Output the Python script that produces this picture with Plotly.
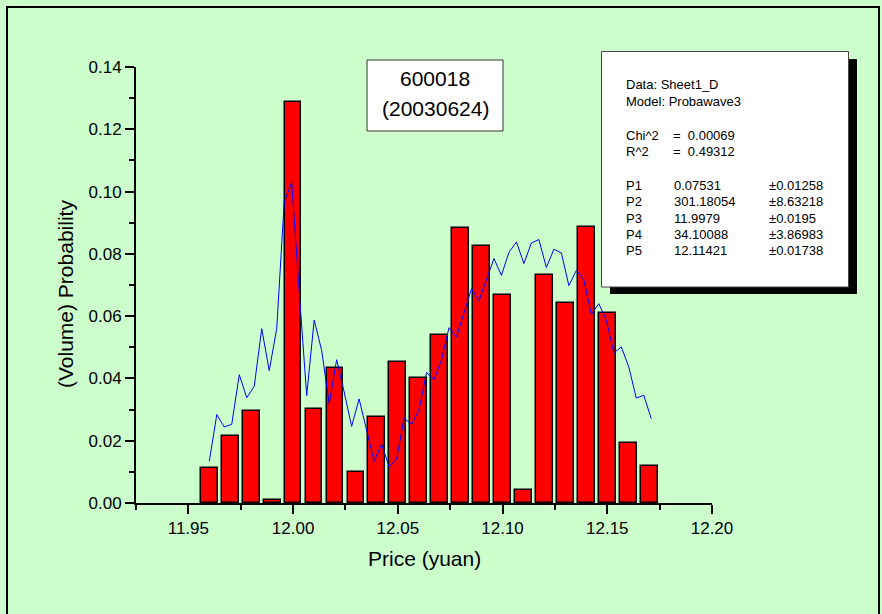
import numpy as np
import plotly.graph_objects as go

# Histogram of traded volume share by price (yuan)
price_bins = [11.96, 11.97, 11.98, 11.99, 12.00, 12.01, 12.02, 12.03, 12.04, 12.05, 12.06,
              12.07, 12.08, 12.09, 12.10, 12.11, 12.12, 12.13, 12.14, 12.15, 12.16, 12.17]
probability = [0.0114, 0.0214, 0.0296, 0.0011, 0.1287, 0.0301, 0.0434, 0.0098, 0.0275, 0.0453, 0.0400,
               0.0539, 0.0884, 0.0825, 0.0667, 0.0042, 0.0732, 0.0641, 0.0886, 0.0609, 0.0192, 0.0118]

# Probawave3 model curve sampled on an even price grid
curve_x = list(np.linspace(11.960, 12.171, 60))
curve_y = [0.0134, 0.0284, 0.0244, 0.0253, 0.0412, 0.0338, 0.0375, 0.0560, 0.0425, 0.0560,
           0.0967, 0.1029, 0.0680, 0.0345, 0.0587, 0.0490, 0.0319, 0.0460, 0.0357, 0.0246,
           0.0334, 0.0233, 0.0134, 0.0189, 0.0116, 0.0141, 0.0272, 0.0253, 0.0300, 0.0419,
           0.0396, 0.0460, 0.0563, 0.0533, 0.0608, 0.0688, 0.0650, 0.0718, 0.0785, 0.0731,
           0.0805, 0.0838, 0.0769, 0.0835, 0.0846, 0.0756, 0.0815, 0.0803, 0.0698, 0.0747,
           0.0717, 0.0606, 0.0640, 0.0587, 0.0482, 0.0501, 0.0437, 0.0337, 0.0346, 0.0271]

x_ticks = [11.95, 12.00, 12.05, 12.10, 12.15, 12.20]

fit_header = ["Data: Sheet1_D", "Model: Probawave3"]
fit_stats = [("Chi^2", "=  0.00069"), ("R^2", "=  0.49312")]
fit_params = [("P1", "0.07531", "\u00b10.01258"),
              ("P2", "301.18054", "\u00b18.63218"),
              ("P3", "11.9979", "\u00b10.0195"),
              ("P4", "34.10088", "\u00b13.86983"),
              ("P5", "12.11421", "\u00b10.01738")]

FONT = "Arial, Liberation Sans, sans-serif"
BG = "#CCFFCC"

# plot area in pixels
W, H = 882, 614
L, R, T, B = 136, 712, 67, 503


def px(x):
    return (x - L) / (R - L)


def py(y):
    return (B - y) / (B - T)


fig = go.Figure()
fig.add_trace(go.Bar(
    x=price_bins, y=probability, width=0.008,
    marker=dict(color="#FF0000", line=dict(color="black", width=1.5)),
    showlegend=False,
))
fig.add_trace(go.Scatter(
    x=curve_x, y=curve_y, mode="lines",
    line=dict(color="#0000FF", width=1),
    showlegend=False,
))

shapes = [
    # outer frame
    dict(type="rect", xref="paper", yref="paper",
         x0=px(7), x1=px(879), y0=py(622), y1=py(7),
         line=dict(color="black", width=2), layer="below"),
    # title box
    dict(type="rect", xref="paper", yref="paper",
         x0=px(367), x1=px(503), y0=py(131), y1=py(60),
         fillcolor="white", line=dict(color="#333333", width=1), layer="above"),
    # fit report shadow and box
    dict(type="rect", xref="paper", yref="paper",
         x0=px(610), x1=px(857), y0=py(294), y1=py(59),
         fillcolor="black", line=dict(width=0), layer="above"),
    dict(type="rect", xref="paper", yref="paper",
         x0=px(601.5), x1=px(848.5), y0=py(287), y1=py(51.5),
         fillcolor="white", line=dict(color="#444444", width=1), layer="above"),
]

annotations = []


def text(x, y, s, size, xanchor="left"):
    annotations.append(dict(
        xref="paper", yref="paper", x=px(x), y=py(y), text=s,
        showarrow=False, xanchor=xanchor, yanchor="middle",
        font=dict(family=FONT, size=size, color="black")))


text(435, 79, "600018", 21, "center")
text(435, 108.5, "(20030624)", 21, "center")

LS = 16.3
FS = 13
text(624, 85, fit_header[0], FS)
text(624, 85 + LS, fit_header[1], FS)
for i, (k, v) in enumerate(fit_stats):
    y = 135 + i * LS
    text(624, y, k, FS)
    text(671, y, v, FS)
for i, (k, v, e) in enumerate(fit_params):
    y = 185.5 + i * LS
    text(624, y, k, FS)
    text(672, y, v, FS)
    text(767, y, e, FS)

# axis titles
text(424, 558, "Price (yuan)", 21, "center")
annotations.append(dict(
    xref="paper", yref="paper", x=px(65), y=py(294), text="(Volume) Probability",
    textangle=-90, showarrow=False, xanchor="center", yanchor="middle",
    font=dict(family=FONT, size=21, color="black")))

fig.update_layout(
    width=W, height=H,
    margin=dict(l=L, r=W - R, t=T, b=H - B, pad=0),
    paper_bgcolor=BG, plot_bgcolor=BG,
    font=dict(family=FONT, size=17, color="black"),
    bargap=0,
    shapes=shapes, annotations=annotations,
    xaxis=dict(
        range=[11.925, 12.20], tickvals=x_ticks, tickformat=".2f",
        showgrid=False, zeroline=False,
        showline=True, linecolor="black", linewidth=2,
        ticks="outside", ticklen=9, tickwidth=2, tickcolor="black",
        minor=dict(tick0=11.925, dtick=0.025, ticks="outside", ticklen=5,
                   tickwidth=2, tickcolor="black", showgrid=False),
        tickfont=dict(family=FONT, size=17),
    ),
    yaxis=dict(
        range=[0, 0.14], dtick=0.02, tickformat=".2f",
        showgrid=False, zeroline=False,
        showline=True, linecolor="black", linewidth=2,
        ticks="outside", ticklen=9, tickwidth=2, tickcolor="black",
        minor=dict(dtick=0.01, ticks="outside", ticklen=5,
                   tickwidth=2, tickcolor="black", showgrid=False),
        tickfont=dict(family=FONT, size=17),
    ),
)

fig.write_html("out.html")
